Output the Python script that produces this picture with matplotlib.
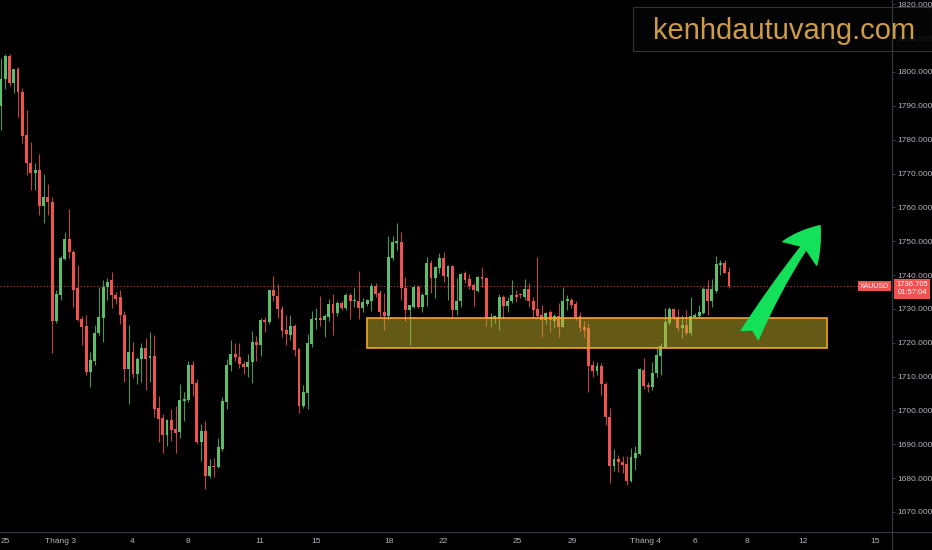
import matplotlib
matplotlib.use("Agg")
import matplotlib.pyplot as plt
from matplotlib import transforms
from matplotlib.lines import Line2D
from matplotlib.patches import Rectangle, FancyArrowPatch

# ---- XAUUSD 4h candles ----
opens = [
    1790, 1797.8, 1804.8, 1796.7, 1800.8, 1794.2, 1781.4, 1773.2, 1770.1, 1771,
    1760.4, 1763.2, 1761.5, 1726.3, 1734.1, 1744.8, 1750.7, 1746.9, 1736.1, 1727,
    1725, 1711.5, 1714.7, 1722.9, 1727.2, 1736.6, 1738.4, 1734.1, 1733.4, 1728.2,
    1712.2, 1717.4, 1710.7, 1715.1, 1718.4, 1715.4, 1716, 1700.6, 1697.7, 1692.8,
    1697.2, 1694.5, 1693.5, 1702.8, 1703.1, 1713.3, 1708.1, 1690.6, 1694, 1680.6,
    1683.6, 1683.4, 1688.5, 1702.6, 1713.3, 1716.7, 1715.9, 1713.7, 1712.9, 1714.2,
    1720.2, 1719.2, 1726.7, 1726.1, 1735.6, 1733.8, 1730.1, 1723.8, 1722.3, 1725,
    1718.1, 1701.3, 1705.2, 1719.6, 1726.7, 1727.3, 1726.7, 1727.7, 1731.4, 1728.7,
    1731.7, 1730.4, 1734.1, 1732.2, 1732.3, 1730.4, 1731.5, 1732.3, 1736.8, 1734.6,
    1729.2, 1727.9, 1745, 1749.4, 1749.9, 1736.3, 1729.7, 1730.7, 1736.4, 1730.7,
    1734.1, 1743.7, 1739.1, 1742, 1745, 1739.3, 1742.7, 1729.7, 1732.2, 1740.5,
    1738.8, 1737.1, 1735.4, 1739.5, 1739.1, 1727.1, 1727.1, 1727.2, 1733.6, 1730.9,
    1732.2, 1734.1, 1734.2, 1733.6, 1735.8, 1732.2, 1729.9, 1728.2, 1726.7, 1729,
    1726.5, 1727.9, 1724.8, 1732.2, 1732.6, 1731.4, 1727.9, 1724.8, 1724.3, 1713.4,
    1711.8, 1713.2, 1707.8, 1698.2, 1683.6, 1685.6, 1684.9, 1684.2, 1679.3, 1685.9,
    1687.1, 1712, 1707.5, 1706.9, 1711.2, 1716.1, 1718.7, 1725.8, 1729.9, 1727.7,
    1724.3, 1725.3, 1723, 1727.7, 1727.9, 1728.9, 1735.8, 1732.3, 1735.4, 1743,
    1743.5, 1741,
]
highs = [
    1804, 1805.3, 1805.3, 1800.8, 1801.5, 1795.2, 1788.8, 1779.4, 1773, 1775.8,
    1770, 1767, 1763.2, 1735.6, 1745.5, 1752.6, 1759.6, 1747.5, 1743, 1727.8,
    1728.2, 1717.4, 1725.3, 1736.4, 1738.6, 1739.1, 1741, 1735, 1735.5, 1729.5,
    1725.3, 1720.3, 1715.8, 1720, 1721.4, 1723.1, 1722.3, 1704.2, 1698.9, 1697.4,
    1700.4, 1701.3, 1707.9, 1705.4, 1714.5, 1714.5, 1709.3, 1696, 1696.8, 1685.6,
    1685.9, 1691.8, 1704.1, 1715.1, 1720.9, 1719.9, 1719.9, 1714.5, 1716.6, 1723.5,
    1722.1, 1727.2, 1727.7, 1735.6, 1739.7, 1737.3, 1731, 1728.2, 1728.1, 1725.5,
    1718.5, 1707.5, 1722.6, 1729.4, 1730.2, 1733.9, 1728.5, 1732.9, 1734.3, 1732.2,
    1732.2, 1734.8, 1734.6, 1736.1, 1741.2, 1733.2, 1733, 1737.6, 1737.8, 1735.5,
    1734.6, 1751.6, 1751.4, 1755.3, 1752.7, 1739.3, 1731.2, 1737.1, 1737.1, 1734.8,
    1745.3, 1744.5, 1742.7, 1746.6, 1746.7, 1743, 1743, 1739.1, 1740.5, 1741.2,
    1740.3, 1737.6, 1739.7, 1742.5, 1739.5, 1728.7, 1728.2, 1734.4, 1734, 1733.6,
    1738.6, 1735.6, 1734.8, 1738.8, 1737.8, 1733.4, 1745.3, 1731.2, 1729.2, 1729.7,
    1728.5, 1731.7, 1736.4, 1734.1, 1733.2, 1732.2, 1729.2, 1726.3, 1725.8, 1714.5,
    1714.2, 1714, 1708.5, 1700.7, 1688.6, 1686.9, 1686.4, 1686.4, 1688.8, 1689.5,
    1712.5, 1715.5, 1708.5, 1714.2, 1719.1, 1719.9, 1730.2, 1730.7, 1730.3, 1729.9,
    1728.2, 1729.7, 1733.6, 1728.8, 1731.2, 1736.6, 1738.6, 1738.8, 1745.5, 1744.5,
    1744.5, 1742.5,
]
lows = [
    1783, 1795, 1796, 1793.8, 1786.8, 1779, 1769.6, 1765.1, 1765, 1757.8,
    1755.4, 1757.8, 1717.1, 1725.8, 1732.6, 1744.5, 1745, 1730.7, 1726.3, 1719.4,
    1710.4, 1707, 1713.4, 1722.3, 1720.3, 1732.6, 1730.3, 1731.5, 1725.5, 1708.5,
    1701.9, 1709.5, 1707.8, 1708.5, 1706, 1708.5, 1698.2, 1690.7, 1687.5, 1689.5,
    1691, 1687.5, 1691.8, 1697, 1702.5, 1704.4, 1690.2, 1685, 1676.7, 1680,
    1680.3, 1683, 1688, 1700.4, 1711.8, 1714.5, 1712.6, 1710.8, 1709.8, 1708,
    1714.7, 1716.2, 1723.1, 1725.5, 1732.2, 1727.3, 1721.8, 1719.4, 1720.9, 1716.1,
    1699.2, 1700.6, 1700.4, 1718.8, 1724, 1725.1, 1721.6, 1726.5, 1722.3, 1727.9,
    1729.7, 1729.7, 1726.9, 1730.7, 1727, 1729.2, 1731, 1729.5, 1733.5, 1727.7,
    1723.8, 1726.7, 1744.5, 1747.4, 1732.6, 1726.3, 1719.2, 1730.2, 1730.2, 1729.2,
    1730.9, 1734.8, 1733.2, 1740.7, 1738.1, 1732.6, 1727.5, 1728.2, 1730.5, 1737.8,
    1735.8, 1730.9, 1735.1, 1736.4, 1725, 1724.8, 1725.8, 1723.8, 1727.2, 1729.2,
    1731.7, 1731.9, 1733.2, 1732.6, 1730.5, 1727.2, 1727.2, 1721.8, 1725.5, 1723.1,
    1724.5, 1721.6, 1724.6, 1729.7, 1730.2, 1726.7, 1723.6, 1721.8, 1705.6, 1709.8,
    1710.5, 1704.6, 1695.7, 1678.7, 1682.2, 1681.9, 1681.4, 1678, 1679, 1682.4,
    1686.8, 1706.3, 1705.6, 1705.9, 1710, 1710.5, 1718.4, 1725.3, 1726.7, 1723.6,
    1721.3, 1722.3, 1722.3, 1727.2, 1727.2, 1728.5, 1728.2, 1730.7, 1734.6, 1740,
    1740.5, 1736.1,
]
closes = [
    1798, 1804.8, 1796.7, 1800.8, 1794, 1781, 1773.1, 1770.1, 1771, 1760.4,
    1763.2, 1761.5, 1726.3, 1734.4, 1745, 1750.7, 1746.7, 1735.6, 1726.7, 1724.8,
    1711.5, 1714.9, 1723, 1727.6, 1736.6, 1738.1, 1734.1, 1732.9, 1728.2, 1712.2,
    1717.4, 1710.7, 1715.1, 1718.4, 1715.1, 1716.1, 1700.4, 1697.5, 1692.8, 1697.2,
    1694.2, 1693.3, 1703.1, 1703.3, 1713.3, 1707.9, 1690.6, 1694, 1680.6, 1683.6,
    1683.2, 1689.1, 1702.9, 1713.4, 1716.7, 1715.7, 1713.6, 1712.9, 1714.2, 1720.2,
    1719.2, 1726.7, 1726.1, 1735.6, 1733.7, 1729.9, 1723.6, 1722.6, 1725, 1717.9,
    1701.3, 1705.5, 1719.8, 1727, 1727.3, 1726.7, 1728, 1731.4, 1728.7, 1731.7,
    1730.4, 1734.1, 1732.2, 1732.4, 1730.4, 1731.9, 1732.6, 1736.9, 1734.4, 1729,
    1727.9, 1745.3, 1749.9, 1750.2, 1736.3, 1729.7, 1731.2, 1736.4, 1730.7, 1734.1,
    1743.7, 1739.1, 1742.3, 1745, 1739.6, 1742.7, 1729.7, 1732.4, 1740.3, 1738.6,
    1736.8, 1735.6, 1739.3, 1738.9, 1727.2, 1727.5, 1727.9, 1733.6, 1730.9, 1732.4,
    1734.1, 1733.6, 1734, 1735.8, 1732.2, 1729.7, 1727.9, 1726.7, 1728.7, 1726.8,
    1727.9, 1724.8, 1732.3, 1732.9, 1731.2, 1727.5, 1724.3, 1723.8, 1713.2, 1711.8,
    1713.2, 1707.7, 1698.2, 1683.6, 1685.6, 1684.9, 1683.9, 1679.3, 1686.2, 1687.3,
    1712.2, 1707.3, 1706.9, 1711.2, 1716.4, 1718.9, 1726, 1729.9, 1727.5, 1724.3,
    1725.3, 1723, 1727.9, 1728.2, 1729.2, 1735.8, 1732.3, 1735.8, 1743.3, 1743.5,
    1740.7, 1736.705,
]

# date labels on the bottom axis (bar index where each day starts)
day_ticks = [0.9, 13.9, 30.8, 43.9, 60.8, 74.0, 91.1, 103.8, 121.2, 134.1,
             151.3, 163.0, 175.2, 188.4, 205.3]
day_labels = ["25", "Tháng 3", "4", "8", "11", "15", "18", "22", "25", "29",
              "Tháng 4", "6", "8", "12", "15"]
price_ticks = list(range(1670, 1830, 10))

# support zone and projected move
zone_x = (85.9, 194.1)
zone_y = (1718.55, 1727.2)
arrow_from = (175.9, 1722.3)
arrow_to = (192.4, 1754.6)

symbol = "XAUUSD"
last_price = closes[-1]
countdown = "01:57:04"
watermark = "kenhdautuvang.com"

UP = "#5cbd6a"
DOWN = "#ef5350"
TXT = "#b2b5be"
GRID = "#363a45"

W, H = 932, 550
fig = plt.figure(figsize=(W / 100, H / 100), dpi=100, facecolor="black")
ax = fig.add_axes([0, 18 / H, 892 / W, 532 / H], facecolor="black")

# candles
for i, (o, h, l, c) in enumerate(zip(opens, highs, lows, closes)):
    col = UP if c >= o else DOWN
    ax.vlines(i, l, h, color=col, lw=0.8, alpha=0.8, zorder=2)
    ax.bar(i, max(abs(c - o), 0.35), bottom=min(o, c), width=0.68,
           color=col, edgecolor="none", zorder=3)

# last price dotted line
ax.axhline(last_price, color=DOWN, lw=0.8, ls=(0, (1, 2)), alpha=0.8, zorder=1)

# zone box
ax.add_patch(Rectangle((zone_x[0], zone_y[0]), zone_x[1] - zone_x[0],
                       zone_y[1] - zone_y[0], facecolor="#c9b42c", alpha=0.5,
                       edgecolor="none", zorder=4))
ax.add_patch(Rectangle((zone_x[0], zone_y[0]), zone_x[1] - zone_x[0],
                       zone_y[1] - zone_y[0], facecolor="none",
                       edgecolor="#f5a623", lw=1.2, zorder=5))

# green arrow
ax.add_patch(FancyArrowPatch(arrow_from, arrow_to,
                             arrowstyle="fancy,head_length=0.75,head_width=0.9,tail_width=0.42",
                             mutation_scale=33, color="#14e15a", shrinkA=0, shrinkB=0,
                             connectionstyle="arc3,rad=-0.04", zorder=6))

ax.set_xlim(-0.235, 209.3)
ax.set_ylim(1664.09, 1821.27)

# axes styling
for s in ["top", "left"]:
    ax.spines[s].set_visible(False)
ax.spines["right"].set_color(GRID)
ax.spines["bottom"].set_color(GRID)
ax.yaxis.tick_right()
ax.set_yticks(price_ticks)
ax.set_yticklabels([f"{p:.3f}" for p in price_ticks])
ax.set_xticks(day_ticks)
ax.set_xticklabels(day_labels)
ax.tick_params(axis="y", colors=TXT, labelsize=6, length=2, pad=1.5, color=GRID)
ax.tick_params(axis="x", colors=TXT, labelsize=6, length=0, pad=4)
for t in ax.get_xticklabels() + ax.get_yticklabels():
    t.set_fontfamily("Liberation Sans")

# extend axis separators to the figure edges
fig.add_artist(Line2D([892 / W, 892 / W], [0, 1], color=GRID, lw=0.8))
fig.add_artist(Line2D([0, 1], [18 / H, 18 / H], color=GRID, lw=0.8))

# price labels on the right
ax.text(874.5 / 892, last_price, symbol, transform=transforms.blended_transform_factory(ax.transAxes, ax.transData),
        ha="center", va="center", fontsize=5, color="white", fontfamily="Liberation Sans",
        bbox=dict(boxstyle="square,pad=0.25", facecolor=DOWN, edgecolor="none"), zorder=7)
trans = transforms.blended_transform_factory(fig.transFigure, ax.transData)
trans = transforms.offset_copy(trans, fig=fig, y=3.5, units="points")
fig.text(912 / W, last_price, f"{last_price:.3f}\n{countdown}", transform=trans,
         ha="center", va="top", fontsize=5.5, color="white", linespacing=1.2,
         fontfamily="Liberation Sans",
         bbox=dict(boxstyle="square,pad=0.3", facecolor=DOWN, edgecolor="none"))

# watermark box (covers the top price labels, as in the screenshot)
fig.add_artist(Rectangle((633 / W, 1 - 51 / H), 1 - 633 / W, 44 / H, transform=fig.transFigure,
                         facecolor="#050505", alpha=0.88, edgecolor="#3a3a3a", lw=0.8))
fig.text(784 / W, 1 - 31 / H, watermark, ha="center", va="center", fontsize=21,
         color="#cf9c46", fontfamily="Liberation Sans")

fig.savefig("out.png", dpi=100, facecolor="black")
